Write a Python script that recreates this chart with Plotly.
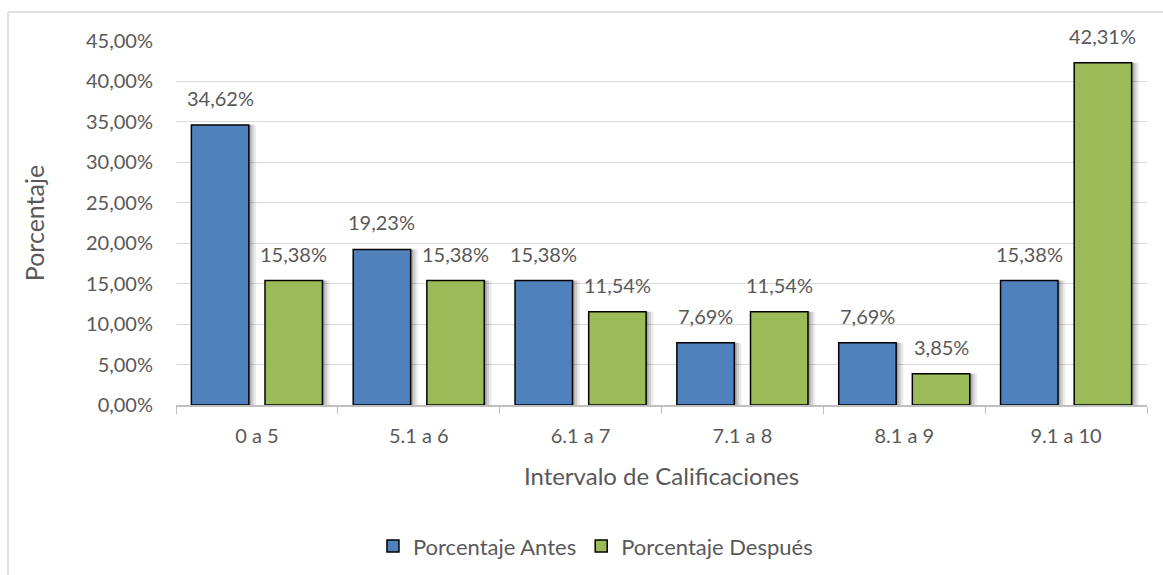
import plotly.graph_objects as go

categories = ["0 a 5", "5.1 a 6", "6.1 a 7", "7.1 a 8", "8.1 a 9", "9.1 a 10"]
antes = [34.62, 19.23, 15.38, 7.69, 7.69, 15.38]
despues = [15.38, 15.38, 11.54, 11.54, 3.85, 42.31]
series_names = ["Porcentaje Antes", "Porcentaje Después"]
y_ticks = [0, 5, 10, 15, 20, 25, 30, 35, 40, 45]

FONT = "Lato"
TXT = "#595959"
BLUE = "#4F81BD"
GREEN = "#9BBB59"

W = 0.355
OFF_A = -0.405
OFF_D = 0.05


def fmt(v):
    return f"{v:.2f}%".replace(".", ",")


fig = go.Figure()

# soft shadows
for vals, off in [(antes, OFF_A), (despues, OFF_D)]:
    for dx, a in [(0.045, 0.08), (0.03, 0.12), (0.015, 0.18)]:
        fig.add_trace(go.Bar(x=categories, y=vals, width=W, offset=off + dx,
                             marker=dict(color=f"rgba(0,0,0,{a})", line=dict(width=0)),
                             showlegend=False, hoverinfo="skip"))

fig.add_trace(go.Bar(x=categories, y=antes, name=series_names[0], width=W, offset=OFF_A,
                     marker=dict(color=BLUE, line=dict(color="black", width=1.5))))
fig.add_trace(go.Bar(x=categories, y=despues, name=series_names[1], width=W, offset=OFF_D,
                     marker=dict(color=GREEN, line=dict(color="black", width=1.5))))

for i, (a, d) in enumerate(zip(antes, despues)):
    for v, off in [(a, OFF_A), (d, OFF_D)]:
        fig.add_annotation(x=i + off + W / 2, y=v, text=fmt(v), showarrow=False,
                           yanchor="bottom", yshift=13,
                           font=dict(family=FONT, size=20, color=TXT))

# chart border (left and top)
bx = (8 - 176) / 971
by = (405 - 12) / 364
fig.add_shape(type="line", xref="paper", yref="paper", x0=bx, x1=bx, y0=-0.6, y1=by,
              line=dict(color="#d9d9d9", width=1.5))
fig.add_shape(type="line", xref="paper", yref="paper", x0=bx, x1=1.1, y0=by, y1=by,
              line=dict(color="#d9d9d9", width=1.5))

fig.update_layout(
    width=1163, height=575,
    margin=dict(l=176, r=16, t=41, b=170, autoexpand=False),
    barmode="overlay",
    separators=",.",
    plot_bgcolor="white", paper_bgcolor="white",
    font=dict(family=FONT, color=TXT, size=20),
    legend=dict(orientation="h", xref="container", x=0.512, xanchor="center",
                y=-0.33, yanchor="top",
                font=dict(family=FONT, size=22, color=TXT), itemwidth=30),
    xaxis=dict(
        type="category", showline=True, linecolor="#bfbfbf", linewidth=1.5,
        ticks="outside", tickson="boundaries", ticklen=7, tickcolor="#bfbfbf",
        ticklabelstandoff=12,
        tickfont=dict(family=FONT, size=20, color=TXT),
        title=dict(text="Intervalo de Calificaciones", font=dict(family=FONT, size=24, color=TXT),
                   standoff=22),
        range=[-0.5, 5.5],
    ),
    yaxis=dict(
        range=[0, 45], tickvals=y_ticks, ticktext=[fmt(t) for t in y_ticks],
        showgrid=True, gridcolor="#d9d9d9", gridwidth=1.2, zeroline=False,
        tickfont=dict(family=FONT, size=20, color=TXT),
        ticks="", ticklabelstandoff=22,
        title=dict(text="Porcentaje", font=dict(family=FONT, size=25, color=TXT), standoff=34),
    ),
)

fig.write_html("out.html", config={"displayModeBar": False},
               post_script="document.body.style.margin='0';document.body.style.padding='0';")
